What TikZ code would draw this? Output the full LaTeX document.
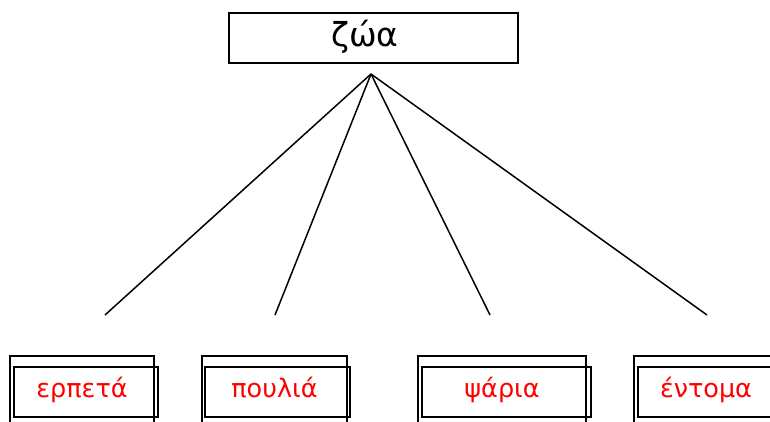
\documentclass[tikz,border=0pt]{standalone}
\usepackage{fontspec}
\setmainfont{DejaVu Sans}

\begin{document}
\begin{tikzpicture}[x=1pt,y=-1pt,
  topbox/.style={draw,line width=2pt,minimum width=289pt,minimum height=50pt,inner sep=0pt,text height=16pt,text depth=0pt,font=\fontsize{33}{38}\selectfont},
  groupbox/.style={draw,line width=1.5pt,minimum width=144pt,minimum height=72pt,inner sep=0pt,text height=10pt,text depth=0pt,text=red,font=\fontsize{25.5}{30}\selectfont},
  shadowbox/.style={draw,line width=2pt},
  branch/.style={line width=1.5pt}]
\clip (0,0) rectangle (770,421);
\node[topbox] (zoa) at (373.5,38) {ζώα\hspace*{17pt}};
\coordinate (hub) at (371,74);
% the four groups
\node[groupbox] (erpeta) at (82,392) {ερπετά};
\node[groupbox,minimum width=145pt] (poulia) at (274.5,392) {πουλιά};
\node[groupbox,minimum width=168pt] (psaria) at (502,392) {ψάρια};
\node[groupbox] (entoma) at (706,392) {έντομα};
\draw[shadowbox] ([shift={(5,12)}]erpeta.north west) rectangle ([shift={(3,-12)}]erpeta.south east);
\draw[shadowbox] ([shift={(4,12)}]poulia.north west) rectangle ([shift={(2,-12)}]poulia.south east);
\draw[shadowbox] ([shift={(5,12)}]psaria.north west) rectangle ([shift={(4,-12)}]psaria.south east);
\draw[shadowbox] ([shift={(5,12)}]entoma.north west) rectangle ([shift={(3,-12)}]entoma.south east);
% branches
\coordinate (erpetaend) at (105,315);
\coordinate (pouliaend) at (275,315);
\coordinate (psariaend) at (490,315);
\coordinate (entomaend) at (707,315);
\draw[branch] (hub) -- (erpetaend);
\draw[branch] (hub) -- (pouliaend);
\draw[branch] (hub) -- (psariaend);
\draw[branch] (hub) -- (entomaend);
\end{tikzpicture}
\end{document}
